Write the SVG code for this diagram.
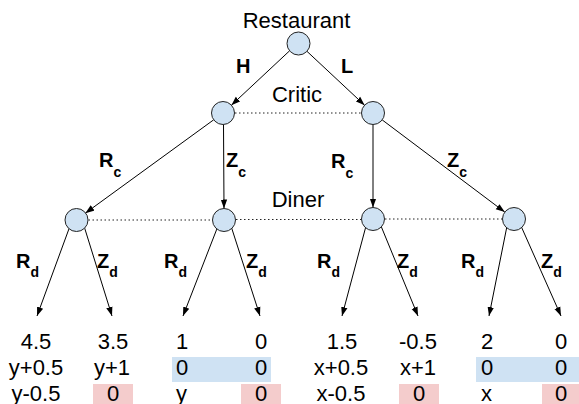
<svg xmlns="http://www.w3.org/2000/svg" width="579" height="404" viewBox="0 0 579 404">
<defs>
<marker id="ah" markerUnits="userSpaceOnUse" markerWidth="10" markerHeight="8" refX="9" refY="4" orient="auto">
<path d="M0,0.8 L9,4 L0,7.2 z" fill="#000"/>
</marker>
<style>
.t{font-family:"Liberation Sans",Arial,sans-serif;font-size:22px;fill:#000}
.b{font-family:"Liberation Sans",Arial,sans-serif;font-size:20px;font-weight:bold;fill:#000}
.s{font-size:14px}
.e{stroke:#000;stroke-width:1;fill:none}
.a{marker-end:url(#ah)}
.d{stroke:#222;stroke-width:1;stroke-dasharray:1.5,2.5;fill:none}
.n{fill:#cfe2f3;stroke:#222;stroke-width:1}
.hb{fill:#cfe2f3}
.hp{fill:#f4cccc}
</style>
</defs>
<rect width="579" height="404" fill="#fff"/>
<g id="highlights">
<rect class="hb" x="172" y="357" width="99" height="25"/>
<rect class="hb" x="476" y="357" width="103" height="25"/>
<rect class="hp" x="93" y="384" width="40" height="20"/>
<rect class="hp" x="241" y="384" width="40" height="20"/>
<rect class="hp" x="399" y="384" width="40" height="20"/>
<rect class="hp" x="542" y="384" width="37" height="20"/>
</g>
<g id="connectors">
<line class="e a" x1="289.6" y1="50.8" x2="231.4" y2="105.2"/>
<line class="e a" x1="306.4" y1="50.8" x2="364.6" y2="105.2"/>
<line class="e a" x1="213.7" y1="119.8" x2="85.3" y2="213.2"/>
<line class="e a" x1="223.5" y1="124.5" x2="224" y2="208.5"/>
<line class="e a" x1="373" y1="124.5" x2="373" y2="207.5"/>
<line class="e a" x1="382.2" y1="119.9" x2="504.8" y2="212.1"/>
<line class="d" x1="235" y1="113" x2="361" y2="113"/>
<line class="d" x1="88.5" y1="220" x2="212" y2="220"/>
<line class="d" x1="236" y1="219.5" x2="361" y2="219.5"/>
<line class="d" x1="385" y1="219" x2="502" y2="219"/>
<line class="e a" x1="70" y1="226" x2="37" y2="316"/>
<line class="e a" x1="84" y1="226" x2="112" y2="316"/>
<line class="e a" x1="218" y1="226" x2="183" y2="316"/>
<line class="e a" x1="231" y1="226" x2="260" y2="316"/>
<line class="e a" x1="366" y1="226" x2="342" y2="316"/>
<line class="e a" x1="381" y1="226" x2="418" y2="316"/>
<line class="e a" x1="507" y1="226" x2="489" y2="316"/>
<line class="e a" x1="521" y1="226" x2="561" y2="316"/>
</g>
<g id="restaurant"><circle class="n" cx="298.5" cy="43.5" r="11.5"/><text class="t" x="296.5" y="28" text-anchor="middle">Restaurant</text></g>
<g id="critic-h"><circle class="n" cx="223" cy="113" r="11.5"/></g>
<g id="critic-l"><circle class="n" cx="373" cy="113" r="11.5"/></g>
<text class="t" x="297" y="101.5" text-anchor="middle">Critic</text>
<g id="diner-hr"><circle class="n" cx="76.5" cy="220" r="11.5"/></g>
<g id="diner-hz"><circle class="n" cx="224" cy="220" r="11.5"/></g>
<g id="diner-lr"><circle class="n" cx="373" cy="219" r="11.5"/></g>
<g id="diner-lz"><circle class="n" cx="514" cy="219" r="11.5"/></g>
<text class="t" x="298" y="207" text-anchor="middle">Diner</text>
<g id="edge-labels">
<text class="b" x="236" y="73">H</text>
<text class="b" x="341" y="73">L</text>
<text class="b" x="99" y="167">R<tspan class="s" y="177">c</tspan></text>
<text class="b" x="226" y="167">Z<tspan class="s" y="177">c</tspan></text>
<text class="b" x="331" y="168">R<tspan class="s" y="178">c</tspan></text>
<text class="b" x="447" y="167">Z<tspan class="s" y="177">c</tspan></text>
<text class="b" x="16" y="268">R<tspan class="s" y="277">d</tspan></text>
<text class="b" x="97" y="268">Z<tspan class="s" y="277">d</tspan></text>
<text class="b" x="164" y="268">R<tspan class="s" y="277">d</tspan></text>
<text class="b" x="246" y="268">Z<tspan class="s" y="277">d</tspan></text>
<text class="b" x="317" y="268">R<tspan class="s" y="277">d</tspan></text>
<text class="b" x="397" y="268">Z<tspan class="s" y="277">d</tspan></text>
<text class="b" x="461" y="268">R<tspan class="s" y="277">d</tspan></text>
<text class="b" x="541" y="268">Z<tspan class="s" y="277">d</tspan></text>
</g>
<g id="payoffs">
<text class="t" x="36" y="349" text-anchor="middle">4.5</text>
<text class="t" x="113" y="349" text-anchor="middle">3.5</text>
<text class="t" x="176" y="349">1</text>
<text class="t" x="261" y="349" text-anchor="middle">0</text>
<text class="t" x="342" y="349" text-anchor="middle">1.5</text>
<text class="t" x="418" y="349" text-anchor="middle">-0.5</text>
<text class="t" x="481" y="349">2</text>
<text class="t" x="561" y="349" text-anchor="middle">0</text>
<text class="t" x="36" y="375" text-anchor="middle">y+0.5</text>
<text class="t" x="112" y="375" text-anchor="middle">y+1</text>
<text class="t" x="176" y="375">0</text>
<text class="t" x="261" y="375" text-anchor="middle">0</text>
<text class="t" x="341" y="375" text-anchor="middle">x+0.5</text>
<text class="t" x="418" y="375" text-anchor="middle">x+1</text>
<text class="t" x="481" y="375">0</text>
<text class="t" x="561" y="375" text-anchor="middle">0</text>
<text class="t" x="36" y="401" text-anchor="middle">y-0.5</text>
<text class="t" x="113" y="401" text-anchor="middle">0</text>
<text class="t" x="176" y="401">y</text>
<text class="t" x="261" y="401" text-anchor="middle">0</text>
<text class="t" x="341" y="401" text-anchor="middle">x-0.5</text>
<text class="t" x="419" y="401" text-anchor="middle">0</text>
<text class="t" x="481" y="401">x</text>
<text class="t" x="561" y="401" text-anchor="middle">0</text>
</g>
</svg>
